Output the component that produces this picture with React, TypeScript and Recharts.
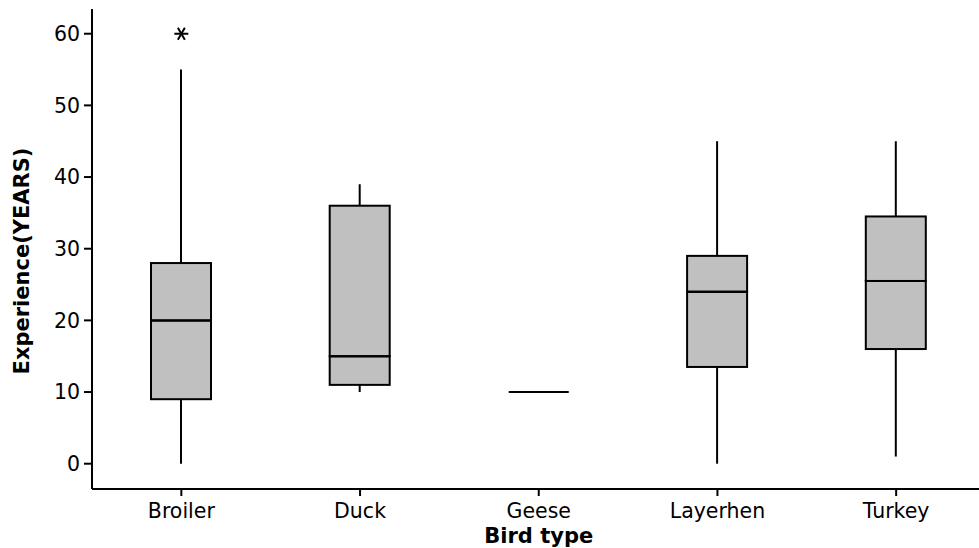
import React from 'react';
import { ComposedChart, Bar, Scatter, XAxis, YAxis } from 'recharts';

// Experience (years) by bird type, five-number summaries per group
const birdTypes = ['Broiler', 'Duck', 'Geese', 'Layerhen', 'Turkey'];
const whiskerLow = [0, 10, 10, 0, 1];
const quartile1 = [9, 11, 10, 13.5, 16];
const medians = [20, 15, 10, 24, 25.5];
const quartile3 = [28, 36, 10, 29, 34.5];
const whiskerHigh = [55, 39, 10, 45, 45];
const outliers: (number | null)[] = [60, null, null, null, null];
const yTicks = [0, 10, 20, 30, 40, 50, 60];

const FONT = '"DejaVu Sans", Verdana, sans-serif';
const BOX_FILL = '#c0c0c0';
const BOX_W = 60;

// stacked segments: invisible base, lower whisker, two box halves, upper whisker
const data = birdTypes.map((name, i) => ({
  name,
  base: whiskerLow[i],
  lowWhisker: quartile1[i] - whiskerLow[i],
  boxLow: medians[i] - quartile1[i],
  boxHigh: quartile3[i] - medians[i],
  highWhisker: whiskerHigh[i] - quartile3[i],
  median: medians[i],
  outlier: outliers[i],
}));

const Empty = () => <g />;

const Whisker = (props: any) => {
  const { x, y, width, height } = props;
  if (!height) return <g />;
  const cx = x + width / 2;
  const top = Math.min(y, y + height);
  const bottom = Math.max(y, y + height);
  return <line x1={cx} x2={cx} y1={top} y2={bottom} stroke="#000" strokeWidth={2} />;
};

const BoxPart = (props: any) => {
  const { x, y, width, height } = props;
  const top = Math.min(y, y + height);
  const h = Math.abs(height);
  return <rect x={x} y={top} width={width} height={h} fill={BOX_FILL} stroke="#000" strokeWidth={2} />;
};

const MedianLine = (props: any) => {
  const { cx, cy } = props;
  if (cx == null || cy == null || isNaN(cy)) return <g />;
  return <line x1={cx - BOX_W / 2} x2={cx + BOX_W / 2} y1={cy} y2={cy} stroke="#000" strokeWidth={2} />;
};

const Asterisk = (props: any) => {
  const { cx, cy, payload } = props;
  if (payload == null || payload.outlier == null || cy == null || isNaN(cy)) return <g />;
  const r = 7;
  const dx = r * Math.cos(Math.PI / 3);
  const dy = r * Math.sin(Math.PI / 3);
  return (
    <g stroke="#000" strokeWidth={2}>
      <line x1={cx - r} x2={cx + r} y1={cy} y2={cy} />
      <line x1={cx - dx} x2={cx + dx} y1={cy - dy} y2={cy + dy} />
      <line x1={cx - dx} x2={cx + dx} y1={cy + dy} y2={cy - dy} />
    </g>
  );
};

const YLabel = (props: any) => {
  const vb = props.viewBox;
  const x = vb.x + 22;
  const y = vb.y + vb.height / 2 + 12;
  return (
    <text x={x} y={y} transform={`rotate(-90 ${x} ${y})`} textAnchor="middle" dominantBaseline="central"
      fontFamily={FONT} fontSize={21} fontWeight="bold" fill="#000">
      Experience(YEARS)
    </text>
  );
};

const XLabel = (props: any) => {
  const vb = props.viewBox;
  return (
    <text x={vb.x + vb.width / 2} y={vb.y + 54} textAnchor="middle"
      fontFamily={FONT} fontSize={21} fontWeight="bold" fill="#000">
      Bird type
    </text>
  );
};

export default function App() {
  return (
    <div style={{ position: 'fixed', left: 0, top: 0, width: 979, height: 548, overflow: 'hidden', background: '#fff' }}>
      <ComposedChart width={1000} height={548} data={data}
        margin={{ top: 9, right: 14.5, bottom: 0, left: 0 }}>
        <XAxis xAxisId="top" dataKey="name" orientation="top" height={0} tick={false} tickLine={false}
          axisLine={{ stroke: '#000', strokeWidth: 2 }} />
        <XAxis dataKey="name" height={59} interval={0} tickSize={7} tickMargin={7}
          axisLine={{ stroke: '#000', strokeWidth: 2 }} tickLine={{ stroke: '#000', strokeWidth: 2 }}
          tick={{ fill: '#000', fontSize: 20.5, fontFamily: FONT }}
          label={<XLabel />} />
        <YAxis width={92} type="number" domain={[-3.53, 63.45]} allowDataOverflow ticks={yTicks}
          tickSize={8} tickMargin={4}
          axisLine={{ stroke: '#000', strokeWidth: 2 }} tickLine={{ stroke: '#000', strokeWidth: 2 }}
          tick={{ fill: '#000', fontSize: 20.5, fontFamily: FONT }}
          label={<YLabel />} />
        <Bar dataKey="base" stackId="box" barSize={BOX_W} shape={<Empty />} isAnimationActive={false} />
        <Bar dataKey="lowWhisker" stackId="box" barSize={BOX_W} shape={<Whisker />} isAnimationActive={false} />
        <Bar dataKey="boxLow" stackId="box" barSize={BOX_W} shape={<BoxPart />} isAnimationActive={false} />
        <Bar dataKey="boxHigh" stackId="box" barSize={BOX_W} shape={<BoxPart />} isAnimationActive={false} />
        <Bar dataKey="highWhisker" stackId="box" barSize={BOX_W} shape={<Whisker />} isAnimationActive={false} />
        <Scatter dataKey="median" shape={<MedianLine />} isAnimationActive={false} />
        <Scatter dataKey="outlier" shape={<Asterisk />} isAnimationActive={false} />
      </ComposedChart>
    </div>
  );
}
